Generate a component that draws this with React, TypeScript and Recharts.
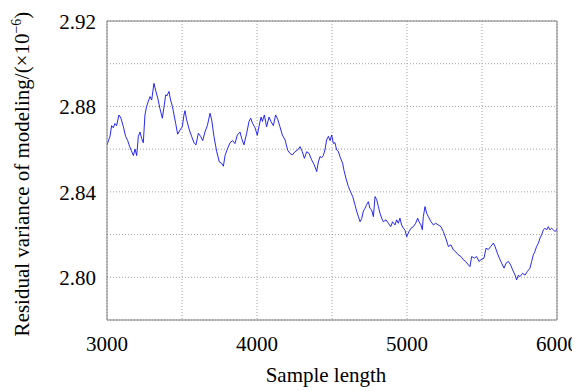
import React from 'react';
import { LineChart, Line, XAxis, YAxis, CartesianGrid, ReferenceLine, Label } from 'recharts';

const sampleLength = [
  3000, 3010, 3020, 3031, 3042, 3053, 3064, 3080, 3093, 3109, 3124, 3138, 3147, 3160, 3176, 3187, 3198, 3209, 3220, 3231,
  3242, 3253, 3264, 3276, 3287, 3298, 3313, 3327, 3338, 3353, 3369, 3382, 3391, 3400, 3413, 3424, 3436, 3447, 3458, 3471,
  3487, 3502, 3513, 3520, 3531, 3549, 3564, 3580, 3593, 3609, 3624, 3638, 3653, 3669, 3687, 3698, 3713, 3731, 3749, 3764,
  3776, 3787, 3802, 3820, 3838, 3853, 3869, 3887, 3898, 3913, 3931, 3947, 3958, 3971, 3987, 4002, 4013, 4027, 4036, 4049,
  4064, 4080, 4093, 4109, 4124, 4138, 4153, 4169, 4187, 4204, 4220, 4236, 4253, 4271, 4287, 4302, 4316, 4331, 4347, 4364,
  4382, 4398, 4409, 4420, 4431, 4442, 4453, 4464, 4476, 4487, 4498, 4509, 4520, 4531, 4542, 4553, 4571, 4580, 4593, 4609,
  4624, 4638, 4653, 4664, 4676, 4687, 4698, 4709, 4720, 4731, 4742, 4753, 4764, 4776, 4787, 4798, 4809, 4820, 4831, 4842,
  4860, 4876, 4891, 4904, 4920, 4931, 4942, 4953, 4964, 4976, 4987, 4998, 5013, 5027, 5042, 5058, 5071, 5080, 5093, 5102,
  5109, 5120, 5131, 5142, 5160, 5176, 5191, 5209, 5227, 5242, 5258, 5276, 5293, 5309, 5324, 5342, 5360, 5376, 5391, 5409,
  5420, 5431, 5449, 5464, 5480, 5493, 5513, 5527, 5542, 5558, 5576, 5587, 5602, 5616, 5631, 5647, 5660, 5676, 5691, 5704,
  5720, 5731, 5742, 5753, 5771, 5787, 5802, 5820, 5831, 5842, 5853, 5864, 5876, 5887, 5898, 5909, 5920, 5931, 5942, 5953,
  5964, 5976, 5987, 6000,
];

const residualVariance = [
  2.862, 2.864, 2.866, 2.871, 2.870, 2.872, 2.871, 2.876, 2.8745, 2.8705, 2.866, 2.864, 2.862, 2.8596, 2.857, 2.860, 2.857, 2.866, 2.868, 2.865,
  2.863, 2.876, 2.880, 2.8825, 2.8846, 2.883, 2.8908, 2.8868, 2.884, 2.879, 2.8745, 2.8807, 2.8854, 2.885, 2.887, 2.883, 2.880, 2.876, 2.872, 2.867,
  2.869, 2.8705, 2.876, 2.878, 2.8737, 2.869, 2.866, 2.863, 2.862, 2.8674, 2.866, 2.864, 2.868, 2.871, 2.8768, 2.8737, 2.866, 2.859, 2.854, 2.8534,
  2.852, 2.857, 2.860, 2.863, 2.864, 2.8626, 2.8666, 2.868, 2.865, 2.862, 2.8674, 2.873, 2.8745, 2.872, 2.870, 2.8665, 2.8705, 2.875, 2.873, 2.876,
  2.8705, 2.875, 2.873, 2.871, 2.876, 2.874, 2.8705, 2.8666, 2.8643, 2.8596, 2.858, 2.8573, 2.8588, 2.8596, 2.8612, 2.8588, 2.8557, 2.8588, 2.858, 2.855,
  2.8526, 2.8495, 2.854, 2.8565, 2.856, 2.857, 2.8596, 2.8643, 2.866, 2.864, 2.8666, 2.8627, 2.863, 2.8596, 2.859, 2.8565, 2.8534, 2.850, 2.8464, 2.8425,
  2.840, 2.8378, 2.834, 2.831, 2.8284, 2.826, 2.8275, 2.831, 2.8323, 2.834, 2.8354, 2.8323, 2.8316, 2.8284, 2.8378, 2.8364, 2.8331, 2.830, 2.8277, 2.826,
  2.8269, 2.8253, 2.8237, 2.826, 2.8245, 2.8269, 2.8253, 2.8277, 2.8245, 2.823, 2.822, 2.819, 2.8214, 2.823, 2.8237, 2.8253, 2.8277, 2.826, 2.8245, 2.8223,
  2.8284, 2.8331, 2.830, 2.8284, 2.826, 2.8245, 2.8253, 2.8245, 2.8237, 2.8214, 2.8184, 2.8144, 2.8152, 2.8128, 2.812, 2.8105, 2.8097, 2.8082, 2.8074, 2.8058,
  2.805, 2.8097, 2.809, 2.8097, 2.8074, 2.8082, 2.8089, 2.8136, 2.813, 2.8144, 2.816, 2.8144, 2.8113, 2.8089, 2.8066, 2.8043, 2.8066, 2.8074, 2.8058, 2.8035,
  2.8011, 2.7988, 2.801, 2.8003, 2.8019, 2.801, 2.8027, 2.8043, 2.8074, 2.8105, 2.8121, 2.8144, 2.816, 2.8184, 2.820, 2.8222, 2.823, 2.8222, 2.8237, 2.8222,
  2.823, 2.8222, 2.8214, 2.8225,
];

const xTicks = [3000, 3500, 4000, 4500, 5000, 5500, 6000];
const xTickLabels = ['3000', '', '4000', '', '5000', '', '6000'];
const yTicks = [2.78, 2.80, 2.82, 2.84, 2.86, 2.88, 2.90, 2.92];
const yTickLabels = ['', '2.80', '', '2.84', '', '2.88', '', '2.92'];

const xTitle = 'Sample length';
const yTitle = 'Residual variance of modeling/(\u00d710';
const yTitleExp = '\u22126';

const data = sampleLength.map((x, i) => ({ x, v: residualVariance[i] }));

const SERIF = 'Liberation Serif';
const AXIS_COLOR = '#7f7f7f';

const findLabel = (ticks: number[], labels: string[], value: number) => {
  const i = ticks.findIndex((t) => Math.abs(t - value) < 1e-9);
  return i >= 0 ? labels[i] : '';
};

export default function App() {
  return (
    <div style={{ position: 'relative', width: 572, height: 383 }}>
      <LineChart width={572} height={383} data={data} margin={{ top: 13, right: 23, bottom: 0, left: 0 }}>
        <CartesianGrid stroke="#a0a0a0" strokeDasharray="1 2" strokeWidth={1} />
        <XAxis
          dataKey="x"
          type="number"
          domain={[3000, 6000]}
          ticks={xTicks}
          interval={0}
          height={71}
          tickSize={0}
          tickMargin={0}
          tickLine={false}
          axisLine={{ stroke: AXIS_COLOR, strokeWidth: 1 }}
          tick={(p: any) => (
            <text x={p.x} y={p.y + 31} textAnchor="middle" fontFamily={SERIF} fontSize={21} fill="#000">
              {findLabel(xTicks, xTickLabels, p.payload.value)}
            </text>
          )}
          allowDataOverflow
        >
          <Label
            content={() => (
              <text x={318} y={374} textAnchor="middle" fontFamily={SERIF} fontSize={21} fill="#000">
                {xTitle}
              </text>
            )}
          />
        </XAxis>
        <YAxis
          type="number"
          domain={[2.78, 2.92]}
          ticks={yTicks}
          interval={0}
          width={99}
          tickSize={0}
          tickMargin={0}
          tickLine={false}
          axisLine={{ stroke: AXIS_COLOR, strokeWidth: 1 }}
          tick={(p: any) => (
            <text x={p.x - 11} y={p.y + 8} textAnchor="end" fontFamily={SERIF} fontSize={21} fill="#000">
              {findLabel(yTicks, yTickLabels, p.payload.value)}
            </text>
          )}
          allowDataOverflow
        >
          <Label
            content={() => (
              <text
                x={21}
                y={166}
                transform="rotate(-90 21 166)"
                textAnchor="middle"
                fontFamily={SERIF}
                fontSize={21}
                fill="#000"
              >
                {yTitle}
                <tspan dy={-8} fontSize={14}>{yTitleExp}</tspan>
                <tspan dy={8}>)</tspan>
              </text>
            )}
          />
        </YAxis>
        <ReferenceLine y={2.92} stroke={AXIS_COLOR} strokeWidth={1} ifOverflow="visible" />
        <ReferenceLine x={6000} stroke={AXIS_COLOR} strokeWidth={1} ifOverflow="visible" />
        <Line
          type="linear"
          dataKey="v"
          stroke="#1010f0"
          strokeWidth={0.9}
          dot={false}
          activeDot={false}
          isAnimationActive={false}
        />
      </LineChart>
    </div>
  );
}
